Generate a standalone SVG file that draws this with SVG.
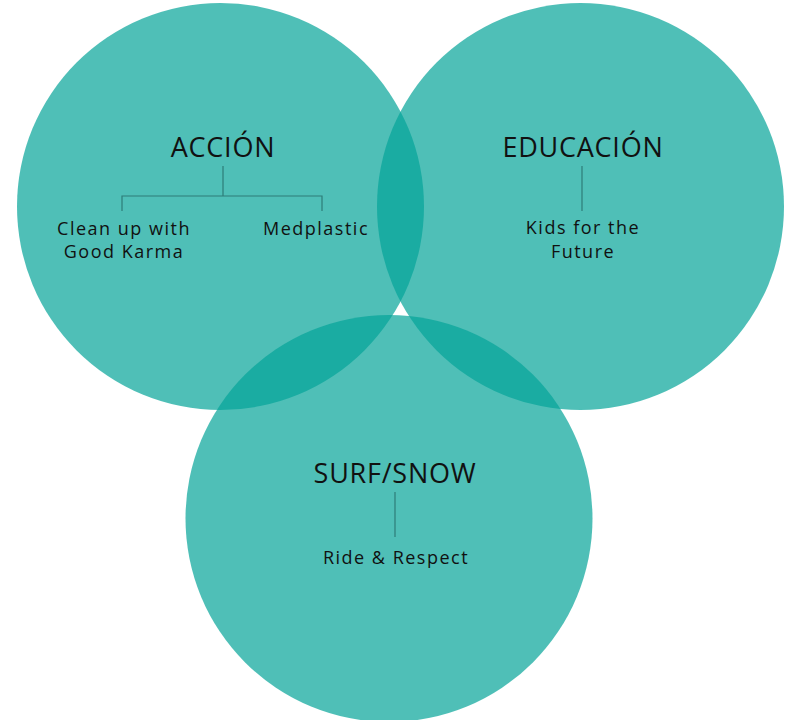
<svg xmlns="http://www.w3.org/2000/svg" width="792" height="720" viewBox="0 0 792 720">
<style>
.c{fill:#04A498;fill-opacity:0.7}
.t{font-family:"Open Sans","Liberation Sans",sans-serif;fill:#111;text-anchor:middle}
.h{font-size:27px;letter-spacing:0.75px}
.s{font-size:18px;letter-spacing:1.5px}
.l{stroke:#2E7C78;stroke-width:1.2;fill:none}
</style>
<rect width="792" height="720" fill="#fff"/>
<g id="circles">
<circle class="c" cx="220.5" cy="206.5" r="203.5"/>
<circle class="c" cx="580.5" cy="206.5" r="203.5"/>
<circle class="c" cx="389" cy="518.5" r="203.5"/>
</g>
<g id="connectors">
<path class="l" d="M223 166V196M122 211V196H322V211"/>
<path class="l" d="M582 166V211"/>
<path class="l" d="M395 492V537"/>
</g>
<g id="accion">
<text class="t h" x="223" y="157">ACCIÓN</text>
<text class="t s" x="124" y="235">Clean up with</text>
<text class="t s" x="124" y="258">Good Karma</text>
<text class="t s" x="316" y="235">Medplastic</text>
</g>
<g id="educacion">
<text class="t h" x="583" y="157">EDUCACIÓN</text>
<text class="t s" x="583" y="234">Kids for the</text>
<text class="t s" x="583" y="258">Future</text>
</g>
<g id="surf">
<text class="t h" x="395" y="483">SURF/SNOW</text>
<text class="t s" x="396" y="564">Ride &amp; Respect</text>
</g>
</svg>
